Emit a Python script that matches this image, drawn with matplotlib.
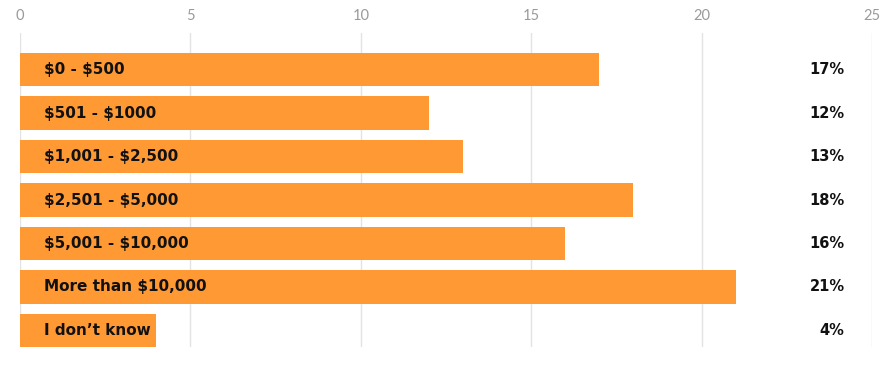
import matplotlib.pyplot as plt

plt.rcParams['text.parse_math'] = False

categories = ['$0 - $500', '$501 - $1000', '$1,001 - $2,500', '$2,501 - $5,000',
              '$5,001 - $10,000', 'More than $10,000', 'I don\u2019t know']
values = [17, 12, 13, 18, 16, 21, 4]
pct_labels = ['17%', '12%', '13%', '18%', '16%', '21%', '4%']

bar_color = '#FF9933'

fig = plt.figure(figsize=(8.9, 3.76), dpi=100)
ax = fig.add_axes([20 / 890, 1 - 347 / 376, 852 / 890, 314 / 376])

ypos = list(range(len(categories)))
ax.barh(ypos, values, height=0.76, color=bar_color, zorder=2)

for y, cat, pct in zip(ypos, categories, pct_labels):
    ax.text(0.7, y, cat, ha='left', va='center', fontsize=11, fontweight='bold',
            family='DejaVu Sans', color='#111111', zorder=3)
    ax.text(24.2, y, pct, ha='right', va='center', fontsize=10.5, fontweight='bold',
            family='DejaVu Sans', color='#111111', zorder=3)

ax.set_xlim(0, 25)
ax.set_ylim(6.38, -0.84)
ax.set_xticks([0, 5, 10, 15, 20, 25])
ax.set_yticks([])
ax.xaxis.tick_top()
ax.tick_params(axis='x', length=0, pad=7.5, labelsize=10.5, labelcolor='#9a9a9a')
for lbl in ax.get_xticklabels():
    lbl.set_family('Lato')
ax.grid(axis='x', color='#e3e3e3', linewidth=1, zorder=0)
for s in ax.spines.values():
    s.set_visible(False)

fig.savefig('out.png', dpi=100)
